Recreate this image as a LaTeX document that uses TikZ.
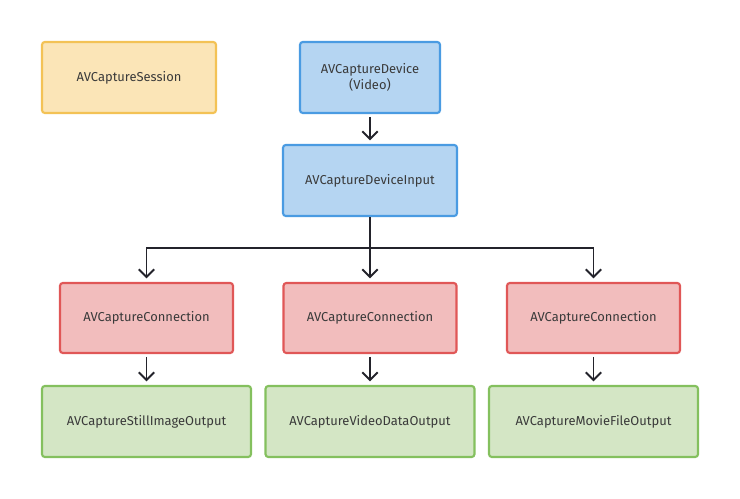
\documentclass[tikz,border=0pt]{standalone}
\usepackage{fontspec}
\setmainfont{Fira Sans}
\usetikzlibrary{arrows.meta}
\definecolor{sessfill}{HTML}{FBE5B7}
\definecolor{sessline}{HTML}{F3C255}
\definecolor{devfill}{HTML}{B5D5F2}
\definecolor{devline}{HTML}{4A9BE2}
\definecolor{connfill}{HTML}{F2BDBD}
\definecolor{connline}{HTML}{E05757}
\definecolor{outfill}{HTML}{D4E6C5}
\definecolor{outline}{HTML}{84C05E}
\definecolor{txt}{HTML}{3A3A3A}
\definecolor{wire}{HTML}{23232B}
\begin{document}
\begin{tikzpicture}[
    box/.style={rectangle, rounded corners=2pt, line width=1.5pt, minimum height=1.775cm,
        align=center, font=\fontsize{9.2}{11.5}\selectfont, text=txt},
    sessbox/.style={box, draw=sessline, fill=sessfill, minimum width=4.35cm},
    devbox/.style={box, draw=devline, fill=devfill},
    connbox/.style={box, draw=connline, fill=connfill, minimum width=4.325cm, minimum height=1.75cm},
    outbox/.style={box, draw=outline, fill=outfill, minimum width=5.225cm},
    link/.style={-{Straight Barb[length=5.5pt,width=11pt,line width=1.4pt]}, line width=1.4pt, wire,
        shorten <=2pt, shorten >=2.5pt}
]
    \useasboundingbox (0,0) rectangle (18.5,12.475);

    \node[sessbox] (session) at (3.225,10.5375) {AVCaptureSession};
    \node[devbox, minimum width=3.5cm] (device) at (9.25,10.5375) {AVCaptureDevice\\(Video)};
    \node[devbox, minimum width=4.35cm] (input) at (9.25,7.9625) {AVCaptureDeviceInput};

    \node[connbox] (c1) at (3.6625,4.525) {AVCaptureConnection};
    \node[connbox] (c2) at (9.25,4.525) {AVCaptureConnection};
    \node[connbox] (c3) at (14.8375,4.525) {AVCaptureConnection};

    \node[outbox] (o1) at (3.6625,1.9375) {AVCaptureStillImageOutput};
    \node[outbox] (o2) at (9.25,1.9375) {AVCaptureVideoDataOutput};
    \node[outbox] (o3) at (14.8375,1.9375) {AVCaptureMovieFileOutput};

    % Verbindungen
    \draw[link] (device) -- (input);
    \coordinate (split) at (9.25,6.275);
    \draw[line width=1.4pt, wire] (input) -- (split);
    \draw[link, shorten <=0pt] (split) -| (c1);
    \draw[link, shorten <=0pt] (split) -- (c2);
    \draw[link, shorten <=0pt] (split) -| (c3);

    \foreach \i in {1,2,3}
        \draw[link] (c\i) -- (o\i);
\end{tikzpicture}
\end{document}
